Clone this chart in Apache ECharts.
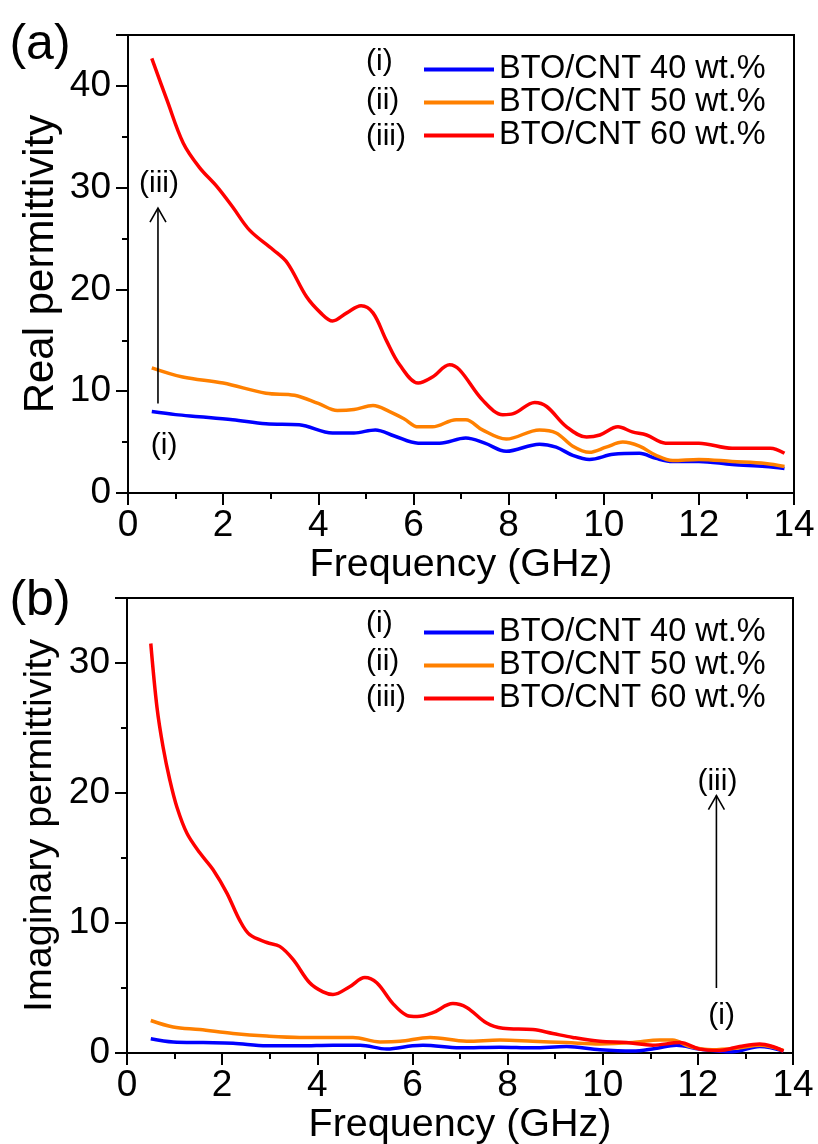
<!DOCTYPE html>
<html><head><meta charset="utf-8">
<script src="https://cdn.jsdelivr.net/npm/echarts@6/dist/echarts.min.js"></script>
<style>html,body{margin:0;padding:0;background:#fff}#c{width:818px;height:1144px}</style>
</head><body><div id="c"></div>
<script>
// ---------- data ----------
const seriesNames = ['BTO/CNT 40 wt.%', 'BTO/CNT 50 wt.%', 'BTO/CNT 60 wt.%'];
const seriesTags = ['(i)', '(ii)', '(iii)'];
const colors = ['#0000ff', '#ff8000', '#ff0000'];
const xTicks = [0, 2, 4, 6, 8, 10, 12, 14];

// (a) real permittivity
const realFreq40 = [0.5,1.0,1.5,2.2,2.9,3.6,4.3,4.75,5.2,5.6,6.1,6.55,7.1,7.5,7.95,8.65,9.0,9.35,9.7,10.2,10.75,11.1,11.45,12.0,12.7,13.4,13.8];
const real40     = [8.0,7.7,7.5,7.2,6.8,6.7,5.9,5.9,6.2,5.6,4.9,4.9,5.4,4.9,4.1,4.8,4.5,3.7,3.3,3.8,3.9,3.4,3.1,3.1,2.8,2.6,2.4];
const realFreq50 = [0.5,1.15,2.0,2.9,3.5,4.0,4.4,4.75,5.15,5.5,5.8,6.1,6.4,6.9,7.1,7.45,7.95,8.65,9.0,9.35,9.7,10.05,10.4,10.75,11.1,11.45,12.0,12.7,13.4,13.8];
const real50     = [12.3,11.4,10.8,9.8,9.6,8.8,8.1,8.2,8.6,8.0,7.3,6.5,6.5,7.2,7.2,6.2,5.3,6.2,5.9,4.6,4.0,4.5,5.0,4.6,3.7,3.2,3.3,3.1,2.9,2.6];
const realFreq60 = [0.5,0.82,1.16,1.5,1.87,2.2,2.56,3.05,3.35,3.75,4.05,4.3,4.6,4.9,5.15,5.43,5.71,6.1,6.4,6.76,6.97,7.46,7.88,8.1,8.55,8.8,9.22,9.64,9.92,10.3,10.6,10.9,11.3,12.0,12.7,13.5,13.8];
const real60     = [42.7,38.6,34.4,32.0,30.1,28.1,25.8,23.9,22.6,19.3,17.7,16.9,17.7,18.4,17.7,15.0,12.6,10.8,11.4,12.6,12.1,9.1,7.7,7.8,8.9,8.5,6.5,5.5,5.7,6.5,6.0,5.7,4.9,4.9,4.4,4.4,3.9];

// (b) imaginary permittivity
const imagFreq40 = [0.5,0.97,1.6,2.23,2.94,3.63,4.33,4.9,5.46,6.0,6.22,7.0,7.84,8.53,9.24,9.94,10.63,11.1,11.55,12.04,12.73,13.3,13.8];
const imag40     = [1.1,0.85,0.8,0.75,0.55,0.55,0.6,0.6,0.3,0.55,0.6,0.4,0.45,0.4,0.5,0.25,0.15,0.35,0.6,0.3,0.1,0.5,0.15];
const imagFreq50 = [0.5,0.97,1.53,2.23,2.94,3.63,4.33,4.75,5.32,5.74,6.37,7.14,7.84,8.53,9.24,9.94,10.63,11.2,11.47,11.83,12.3,12.88,13.3,13.8];
const imag50     = [2.5,2.0,1.8,1.5,1.3,1.2,1.2,1.2,0.85,0.9,1.2,0.9,1.0,0.9,0.8,0.7,0.8,1.0,1.0,0.5,0.25,0.4,0.6,0.2];
const imagFreq60 = [0.5,0.63,0.76,0.9,1.05,1.26,1.53,1.81,2.1,2.37,2.58,2.94,3.21,3.49,3.84,4.12,4.33,4.68,5.0,5.25,5.59,5.88,6.1,6.43,6.85,7.14,7.56,7.9,8.53,8.95,9.37,9.94,10.5,11.05,11.62,12.04,12.46,12.88,13.3,13.57,13.8];
const imag60     = [31.5,26.6,23.5,21.0,18.9,16.9,15.4,14.1,12.3,10.2,9.1,8.5,8.2,7.2,5.4,4.7,4.5,5.1,5.8,5.4,3.8,2.9,2.8,3.1,3.8,3.5,2.3,1.9,1.8,1.5,1.2,0.9,0.8,0.6,0.8,0.3,0.2,0.5,0.7,0.5,0.15];

// annotation anchors (data coords)
const arrowA = {x: 0.63, from: 8.8, to: 28.0, top: '(iii)', topY: 30.4, bottom: '(i)', bottomX: 0.76, bottomY: 4.6};
const arrowB = {x: 12.39, from: 5.0, to: 19.8, top: '(iii)', topY: 20.9, bottom: '(i)', bottomX: 12.5, bottomY: 2.85};

// ---------- chart ----------
const FONT = '"Liberation Sans", Arial, sans-serif';
const zip = (a, b) => a.map((v, i) => [v, b[i]]);
const chart = echarts.init(document.getElementById('c'), null, {renderer: 'canvas'});

function xAxis(gi) {
  return {
    type: 'value', gridIndex: gi, min: 0, max: 14, interval: 2,
    name: 'Frequency (GHz)', nameLocation: 'middle', nameGap: 52, nameMoveOverlap: false,
    nameTextStyle: {fontSize: 39.5, color: '#000', fontFamily: FONT},
    axisLine: {lineStyle: {color: '#000', width: 2}},
    axisTick: {length: 12, lineStyle: {color: '#000', width: 2}},
    minorTick: {show: true, splitNumber: 2, length: 6, lineStyle: {color: '#000', width: 2}},
    axisLabel: {fontSize: 37, color: '#000', fontFamily: FONT, margin: 14},
    splitLine: {show: false}
  };
}
function yAxis(gi, max, name, nameSize, nameGap) {
  return {
    type: 'value', gridIndex: gi, min: 0, max: max, interval: 10,
    name: name, nameLocation: 'middle', nameGap: nameGap, nameMoveOverlap: false,
    nameTextStyle: {fontSize: nameSize, color: '#000', fontFamily: FONT},
    axisLine: {lineStyle: {color: '#000', width: 2}},
    axisTick: {length: 12, lineStyle: {color: '#000', width: 2}},
    minorTick: {show: true, splitNumber: 2, length: 6, lineStyle: {color: '#000', width: 2}},
    axisLabel: {fontSize: 37, color: '#000', fontFamily: FONT, margin: 17, showMaxLabel: false},
    splitLine: {show: false}
  };
}
function line(name, gi, xs, ys, color) {
  return {
    type: 'line', name: name, xAxisIndex: gi, yAxisIndex: gi,
    data: zip(xs, ys), smooth: 0.35, symbol: 'none',
    lineStyle: {color: color, width: 3.5}, itemStyle: {color: color},
    z: 3
  };
}
function legend(top) {
  return {
    orient: 'vertical', left: 424, top: top, itemGap: 0, padding: 0,
    icon: 'rect', itemWidth: 70, itemHeight: 4,
    textStyle: {fontSize: 32.5, color: '#000', fontFamily: FONT, lineHeight: 32.5},
    data: seriesNames, selectedMode: false
  };
}

const option = {
  animation: false,
  backgroundColor: '#fff',
  grid: [
    {left: 128, top: 35, width: 666, height: 458, show: true, borderColor: '#000', borderWidth: 2, backgroundColor: 'transparent', outerBoundsMode: 'none'},
    {left: 127, top: 598, width: 666, height: 455, show: true, borderColor: '#000', borderWidth: 2, backgroundColor: 'transparent', outerBoundsMode: 'none'}
  ],
  xAxis: [xAxis(0), xAxis(1)],
  yAxis: [yAxis(0, 45, 'Real permittivity', 42, 66), yAxis(1, 35, 'Imaginary permittivity', 39.5, 67)],
  legend: [legend(53), legend(616)],
  series: [
    line(seriesNames[0], 0, realFreq40, real40, colors[0]),
    line(seriesNames[1], 0, realFreq50, real50, colors[1]),
    line(seriesNames[2], 0, realFreq60, real60, colors[2]),
    line(seriesNames[0], 1, imagFreq40, imag40, colors[0]),
    line(seriesNames[1], 1, imagFreq50, imag50, colors[1]),
    line(seriesNames[2], 1, imagFreq60, imag60, colors[2])
  ]
};
chart.setOption(option);

// annotations positioned through the axes
function px(gi, x, y) { return chart.convertToPixel({gridIndex: gi}, [x, y]); }
function txt(x, y, s, size, align) {
  return {type: 'text', x: x, y: y, style: {text: s, fontSize: size, fill: '#000', fontFamily: FONT, align: align || 'center', verticalAlign: 'middle'}, z: 10};
}
function arrowEls(gi, a) {
  const p0 = px(gi, a.x, a.from), p1 = px(gi, a.x, a.to);
  const t = px(gi, a.x, a.topY), b = px(gi, a.bottomX, a.bottomY);
  return [
    {type: 'line', shape: {x1: p0[0], y1: p0[1], x2: p1[0], y2: p1[1]}, style: {stroke: '#000', lineWidth: 1.6}, z: 10},
    {type: 'polyline', shape: {points: [[p1[0] - 8, p1[1] + 14], [p1[0], p1[1]], [p1[0] + 8, p1[1] + 14]]}, style: {stroke: '#000', lineWidth: 1.6, fill: null}, z: 10},
    txt(t[0] + 1, t[1], a.top, 30),
    txt(b[0], b[1], a.bottom, 30)
  ];
}
const tagsEls = [];
[[62, 101, 137], [624, 662, 698]].forEach(ys => {
  ys.forEach((y, i) => tagsEls.push(txt(366, y, seriesTags[i], 30, 'left')));
});
chart.setOption({
  graphic: [].concat(
    arrowEls(0, arrowA), arrowEls(1, arrowB), tagsEls,
    [txt(40, 45, '(a)', 50), txt(40, 601, '(b)', 50)]
  )
});
</script></body></html>
